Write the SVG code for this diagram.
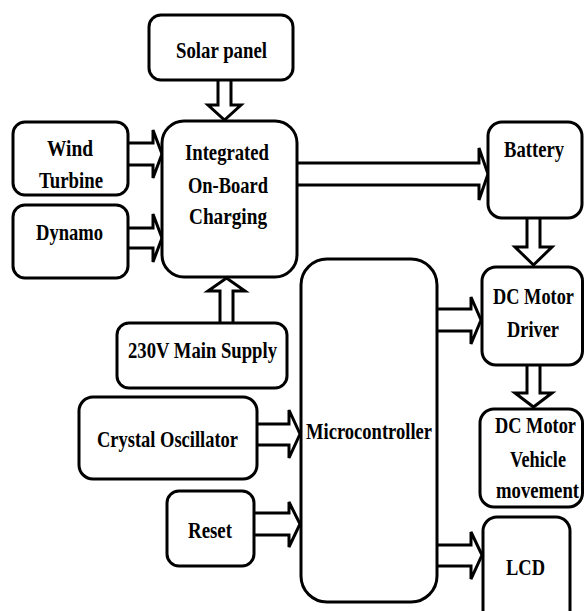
<svg xmlns="http://www.w3.org/2000/svg" width="584" height="611" viewBox="0 0 584 611">
<style>
.box{fill:#fff;stroke:#000;stroke-width:3}
.arr{fill:#fff;stroke:#000;stroke-width:3;stroke-linejoin:miter}
text{font-family:"Liberation Serif","Times New Roman",serif;font-weight:bold;font-size:24px;fill:#000;text-anchor:middle}
</style>
<rect width="584" height="611" fill="#fff"/>
<g id="connectors">
<path class="arr" d="M218 81 V105 H208 L224.5 120 L241 105 H231 V81"/>
<path class="arr" d="M129 143 H153 V130 L162 154 L153 178 V165 H129"/>
<path class="arr" d="M129 228 H153 V214 L162 238 L153 262 V248 H129"/>
<path class="arr" d="M298 163 H479 V148 L488 174 L479 200 V185 H298"/>
<path class="arr" d="M527 219 V247 H515 L533.5 265 L552 247 H540 V219"/>
<path class="arr" d="M438 309 H471 V297 L481 320 L471 344 V331 H438"/>
<path class="arr" d="M527 366 V393 H515 L533.5 407 L552 393 H540 V366"/>
<path class="arr" d="M438 545 H471 V532 L482 555 L471 579 V566 H438"/>
<path class="arr" d="M258 424 H289 V410 L300 434 L289 458 V445 H258"/>
<path class="arr" d="M255 513 H289 V502 L300 524 L289 547 V535 H255"/>
<path class="arr" d="M220 322 V291 H208 L226.5 278 L245 291 H233 V322"/>
</g>
<g id="solar"><rect class="box" x="149" y="15" width="144" height="65" rx="12"/><text x="221.5" y="58" textLength="91" lengthAdjust="spacingAndGlyphs">Solar panel</text></g>
<g id="wind"><rect class="box" x="13" y="122" width="115" height="73" rx="12"/><text x="70" y="156" textLength="46" lengthAdjust="spacingAndGlyphs">Wind</text><text x="71" y="188" textLength="64" lengthAdjust="spacingAndGlyphs">Turbine</text></g>
<g id="dynamo"><rect class="box" x="13" y="205" width="115" height="73" rx="12"/><text x="69.5" y="240" textLength="67" lengthAdjust="spacingAndGlyphs">Dynamo</text></g>
<g id="charging"><rect class="box" x="162" y="121" width="135" height="156" rx="22"/><text x="227" y="160" textLength="84" lengthAdjust="spacingAndGlyphs">Integrated</text><text x="228" y="193" textLength="80" lengthAdjust="spacingAndGlyphs">On-Board</text><text x="228" y="224" textLength="78" lengthAdjust="spacingAndGlyphs">Charging</text></g>
<g id="battery"><rect class="box" x="488" y="122" width="94" height="96" rx="14"/><text x="534" y="157" textLength="60" lengthAdjust="spacingAndGlyphs">Battery</text></g>
<g id="driver"><rect class="box" x="482" y="267" width="100.5" height="98" rx="14"/><text transform="translate(533.5 304) scale(0.764 1)">DC Motor</text><text x="533" y="337" textLength="52" lengthAdjust="spacingAndGlyphs">Driver</text></g>
<g id="mains"><rect class="box" x="117" y="323" width="170" height="65" rx="12"/><text x="202.5" y="358" textLength="149" lengthAdjust="spacingAndGlyphs">230V Main Supply</text></g>
<g id="micro"><rect class="box" x="301" y="259" width="136" height="343" rx="26"/><text x="369" y="439" textLength="126" lengthAdjust="spacingAndGlyphs">Microcontroller</text></g>
<g id="crystal"><rect class="box" x="79" y="397" width="178" height="82" rx="14"/><text x="167.5" y="447" textLength="141" lengthAdjust="spacingAndGlyphs">Crystal Oscillator</text></g>
<g id="reset"><rect class="box" x="167" y="491" width="87" height="75" rx="12"/><text x="210" y="538" textLength="44" lengthAdjust="spacingAndGlyphs">Reset</text></g>
<g id="vehicle"><rect class="box" x="480" y="409" width="102.5" height="98" rx="14"/><text transform="translate(535.5 433) scale(0.764 1)">DC Motor</text><text x="538" y="467" textLength="56" lengthAdjust="spacingAndGlyphs">Vehicle</text><text transform="translate(537.5 498) scale(0.779 1)">movement</text></g>
<g id="lcd"><rect class="box" x="483" y="517" width="87" height="110" rx="14"/><text x="525.5" y="575" textLength="39" lengthAdjust="spacingAndGlyphs">LCD</text></g>
</svg>
